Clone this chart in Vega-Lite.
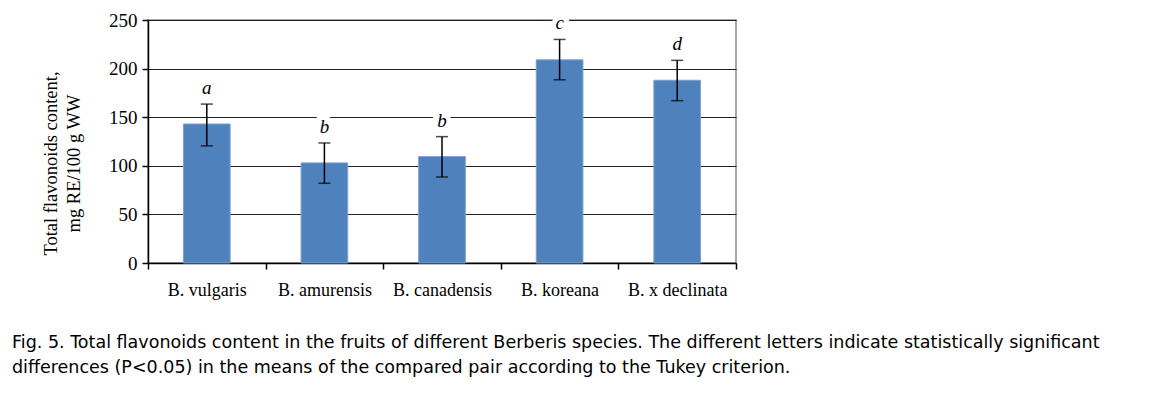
{
  "$schema": "https://vega.github.io/schema/vega-lite/v6.json",
  "autosize": "none",
  "width": 588,
  "height": 243,
  "padding": {"left": 148, "top": 20, "right": 438, "bottom": 131},
  "background": "white",
  "data": {
    "values": [
      {"species": "B. vulgaris", "mean": 143, "lo": 120.5, "hi": 163.5, "letter": "a"},
      {"species": "B. amurensis", "mean": 103, "lo": 82, "hi": 123.5, "letter": "b"},
      {"species": "B. canadensis", "mean": 109.5, "lo": 88.5, "hi": 130, "letter": "b"},
      {"species": "B. koreana", "mean": 209, "lo": 188.5, "hi": 230, "letter": "c"},
      {"species": "B. x declinata", "mean": 188, "lo": 167, "hi": 208.5, "letter": "d"}
    ]
  },
  "title": {
    "text": [
      "Fig. 5. Total flavonoids content in the fruits of different Berberis species. The different letters indicate statistically significant",
      "differences (P<0.05) in the means of the compared pair according to the Tukey criterion."
    ],
    "orient": "bottom",
    "anchor": "start",
    "frame": "group",
    "dx": -136,
    "offset": 35,
    "font": "DejaVu Sans",
    "fontSize": 17.5,
    "fontWeight": "normal",
    "lineHeight": 25,
    "color": "black"
  },
  "config": {
    "view": {"stroke": "#8a8a8a", "strokeWidth": 1.5},
    "axis": {
      "labelFont": "Liberation Serif",
      "labelFontSize": 18,
      "labelColor": "black",
      "titleFont": "Liberation Serif",
      "titleFontSize": 18.5,
      "titleFontWeight": "normal",
      "titleColor": "black",
      "domainColor": "black",
      "domainWidth": 1.5,
      "tickColor": "black",
      "tickWidth": 1.5,
      "tickSize": 6
    }
  },
  "encoding": {
    "x": {
      "field": "species",
      "type": "nominal",
      "sort": null,
      "scale": {"paddingInner": 0, "paddingOuter": 0},
      "axis": {
        "title": null,
        "labelAngle": 0,
        "tickBand": "extent",
        "labelBaseline": "alphabetic",
        "labelPadding": 26,
        "grid": false
      }
    }
  },
  "layer": [
    {
      "mark": {"type": "bar", "color": "#4F81BD", "stroke": "#7d9fd0", "strokeWidth": 1, "width": {"band": 0.397}},
      "encoding": {
        "y": {
          "field": "mean",
          "type": "quantitative",
          "scale": {"domain": [0, 250], "nice": false},
          "axis": {
            "values": [0, 50, 100, 150, 200, 250],
            "grid": true,
            "gridColor": "#222222",
            "gridWidth": 1.2,
            "labelFontSize": 19,
            "labelPadding": 5,
            "title": ["Total flavonoids content,", "mg RE/100 g WW"],
            "titleAngle": 270,
            "titleAlign": "center",
            "titleBaseline": "alphabetic",
            "titleLineHeight": 23,
            "titleX": -92,
            "titleY": 143
          }
        }
      }
    },
    {
      "mark": {"type": "rule", "color": "black", "strokeWidth": 1.5},
      "encoding": {
        "y": {"field": "lo", "type": "quantitative"},
        "y2": {"field": "hi"}
      }
    },
    {
      "mark": {"type": "tick", "color": "black", "thickness": 1.5, "size": 12},
      "encoding": {"y": {"field": "lo", "type": "quantitative"}}
    },
    {
      "mark": {"type": "tick", "color": "black", "thickness": 1.5, "size": 12},
      "encoding": {"y": {"field": "hi", "type": "quantitative"}}
    },
    {
      "mark": {"type": "text", "font": "Liberation Serif", "fontStyle": "italic", "fontSize": 19, "dy": -10, "baseline": "alphabetic", "stroke": "white", "strokeWidth": 10, "fill": "white"},
      "encoding": {
        "y": {"field": "hi", "type": "quantitative"},
        "text": {"field": "letter"}
      }
    },
    {
      "mark": {"type": "text", "font": "Liberation Serif", "fontStyle": "italic", "fontSize": 19, "dy": -10, "baseline": "alphabetic", "color": "black"},
      "encoding": {
        "y": {"field": "hi", "type": "quantitative"},
        "text": {"field": "letter"}
      }
    }
  ]
}
